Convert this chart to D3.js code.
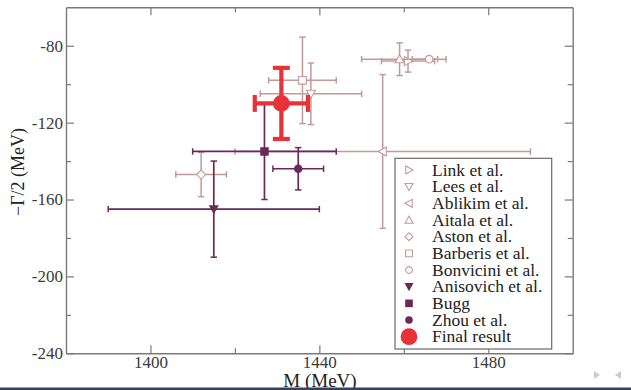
<!DOCTYPE html>
<html>
<head>
<meta charset="utf-8">
<script src="https://cdn.jsdelivr.net/npm/d3@7"></script>
<style>
  html, body { margin: 0; padding: 0; background: #fff; }
  svg { display: block; }
  svg text { font-family: "Liberation Serif", "Times New Roman", Tinos, "DejaVu Serif", serif; }
</style>
</head>
<body>
<svg id="chart" width="631" height="390"></svg>
<script>
// Pole position of the K0*(1430): mass M and -Gamma/2, with errors (MeV)
const series       = ["Link et al.", "Lees et al.", "Ablikim et al.", "Aitala et al.", "Aston et al.",
                      "Barberis et al.", "Bonvicini et al.", "Anisovich et al.", "Bugg", "Zhou et al.", "Final result"];
const symbols      = ["triR", "triD", "triL", "triU", "diamond", "square", "circle", "triD", "square", "circle", "big"];
const groups       = ["light", "light", "light", "light", "light", "light", "light", "dark", "dark", "dark", "final"];
const mass         = [1461, 1438, 1455, 1459, 1412, 1436, 1466, 1415, 1427, 1435, 1431];
const massErr      = [6.3, 12, 35, 9, 6, 8, 4, 25, 17, 6, 6.3];
const halfWidth    = [-88, -105, -135, -87, -147, -98, -87, -165, -135, -144, -110];
const halfWidthErr = [5.7, 16, 40, 8.5, 11.5, 22.5, 0, 25, 25, 11, 18.5];

const xMajorTicks = [1400, 1440, 1480];
const xMinorTicks = [1420, 1460];
const yMajorTicks = [-240, -200, -160, -120, -80];
const yMinorTicks = [-220, -180, -140, -100];

const colors = { light: "#c39a9a", dark: "#6a2a58", final: "#e8323a" };
const serif = "'Liberation Serif', 'Times New Roman', Tinos, 'DejaVu Serif', serif";

const svg = d3.select("#chart");
const W = 631, H = 390;
const plot = { left: 66, right: 572.7, top: 7.3, bottom: 353.3 };

const x = d3.scaleLinear().domain([1380, 1500]).range([plot.left, plot.right]);
const y = d3.scaleLinear().domain([-240, -60]).range([plot.bottom, plot.top]);

svg.append("rect").attr("width", W).attr("height", H).attr("fill", "#fff");

// ---- axes (ticks point inward on all four sides) ----
const axisColor = "#7a7a7a";
function styleAxis(g) {
  g.attr("font-family", serif);
  g.select(".domain").attr("stroke", axisColor).attr("stroke-width", 1.4);
  g.selectAll(".tick line").attr("stroke", axisColor).attr("stroke-width", 1.2);
  g.selectAll(".tick text").attr("fill", "#3a3a3a").attr("font-size", 17);
}
const fmt = d => String(d);

function addAxes(axisFn, scale, major, minor, transform, labels) {
  const gMaj = svg.append("g").attr("transform", transform)
    .call(axisFn(scale).tickValues(major).tickSizeInner(-8).tickSizeOuter(0)
      .tickPadding(labels ? 3 : 0).tickFormat(labels ? fmt : () => ""));
  styleAxis(gMaj);
  const gMin = svg.append("g").attr("transform", transform)
    .call(axisFn(scale).tickValues(minor).tickSizeInner(-5).tickSizeOuter(0).tickFormat(() => ""));
  styleAxis(gMin);
  gMin.select(".domain").remove();
}
addAxes(d3.axisBottom, x, xMajorTicks, xMinorTicks, `translate(0,${plot.bottom})`, true);
addAxes(d3.axisTop, x, xMajorTicks, xMinorTicks, `translate(0,${plot.top})`, false);
addAxes(d3.axisLeft, y, yMajorTicks, yMinorTicks, `translate(${plot.left},0)`, true);
addAxes(d3.axisRight, y, yMajorTicks, yMinorTicks, `translate(${plot.right},0)`, false);

// axis titles
svg.append("text").attr("x", 320).attr("y", 386.5)
  .attr("text-anchor", "middle").attr("fill", "#222").attr("font-family", serif)
  .attr("font-size", 19).text("M (MeV)");
svg.append("text").attr("transform", "translate(24,172) rotate(-90)")
  .attr("text-anchor", "middle").attr("fill", "#222").attr("font-family", serif)
  .attr("font-size", 18).text("\u2212\u0393/2 (MeV)");

// ---- marker shapes ----
function shapePath(kind, s) {
  const h = s / 2;
  switch (kind) {
    case "triU": return `M0,${-h}L${h},${h * 0.8}L${-h},${h * 0.8}Z`;
    case "triD": return `M0,${h}L${h},${-h * 0.8}L${-h},${-h * 0.8}Z`;
    case "triL": return `M${-h},0L${h * 0.8},${-h}L${h * 0.8},${h}Z`;
    case "triR": return `M${h},0L${-h * 0.8},${-h}L${-h * 0.8},${h}Z`;
    case "diamond": return `M0,${-h}L${h},0L0,${h}L${-h},0Z`;
    case "square": return `M${-h * 0.85},${-h * 0.85}h${1.7 * h}v${1.7 * h}h${-1.7 * h}Z`;
    case "circle": return d3.symbol(d3.symbolCircle, Math.PI * (h * 0.85) ** 2)();
    case "big": return d3.symbol(d3.symbolCircle, Math.PI * 8.4 ** 2)();
  }
}
function drawMarker(g, kind, group, size) {
  const c = colors[group];
  const p = g.append("path").attr("d", shapePath(kind, size));
  if (group === "light") p.attr("fill", "#fff").attr("stroke", c).attr("stroke-width", 1.1);
  else p.attr("fill", c).attr("stroke", "none");
  return p;
}

// ---- error bars and points ----
const plotG = svg.append("g");
d3.range(series.length).forEach(i => {
  const g = groups[i];
  const c = colors[g];
  const isFinal = g === "final";
  const sw = isFinal ? 4.2 : (g === "dark" ? 1.7 : 1.5);
  const cap = isFinal ? 8.5 : 3.2;
  const capW = isFinal ? 4.2 : 1.5;
  const cx = x(mass[i]), cy = y(halfWidth[i]);
  const e = plotG.append("g").attr("stroke", c);

  if (massErr[i] > 0) {
    const x0 = x(mass[i] - massErr[i]), x1 = x(mass[i] + massErr[i]);
    e.append("line").attr("x1", x0).attr("x2", x1).attr("y1", cy).attr("y2", cy).attr("stroke-width", sw);
    [x0, x1].forEach(xx => e.append("line").attr("x1", xx).attr("x2", xx)
      .attr("y1", cy - cap).attr("y2", cy + cap).attr("stroke-width", capW));
  }
  if (halfWidthErr[i] > 0) {
    const y0 = y(halfWidth[i] + halfWidthErr[i]), y1 = y(halfWidth[i] - halfWidthErr[i]);
    e.append("line").attr("x1", cx).attr("x2", cx).attr("y1", y0).attr("y2", y1).attr("stroke-width", sw);
    [y0, y1].forEach(yy => e.append("line").attr("y1", yy).attr("y2", yy)
      .attr("x1", cx - cap).attr("x2", cx + cap).attr("stroke-width", capW));
  }
  const m = plotG.append("g").attr("transform", `translate(${cx},${cy})`);
  drawMarker(m, symbols[i], g, g === "light" ? 9 : 10);
});

// ---- legend ----
const leg = { x: 395, y: 158.3, w: 156.7, h: 190.7, row: 16.67 };
const lg = svg.append("g");
lg.append("rect").attr("x", leg.x).attr("y", leg.y).attr("width", leg.w).attr("height", leg.h)
  .attr("fill", "#fff").attr("stroke", "#6a6a6a").attr("stroke-width", 1.2);
series.forEach((name, i) => {
  const ry = 170 + i * leg.row;
  const m = lg.append("g").attr("transform", `translate(409,${ry})`);
  drawMarker(m, symbols[i], groups[i], groups[i] === "light" ? 8 : 9);
  lg.append("text").attr("x", 432).attr("y", ry).attr("dy", "0.32em")
    .attr("fill", "#222").attr("font-family", serif).attr("font-size", 17.5).text(name);
});

// ---- slide footer: navigation arrows and bottom rule ----
const nav = svg.append("g").attr("fill", "#c5cad8");
nav.append("path").attr("d", d3.line()([[594, 371], [600, 375], [594, 379]]) + "Z");
nav.append("path").attr("d", d3.line()([[621, 371], [615, 375], [621, 379]]) + "Z");
svg.append("rect").attr("x", 0).attr("y", 387.5).attr("width", W).attr("height", 2.5).attr("fill", "#34425e");
</script>
</body>
</html>
